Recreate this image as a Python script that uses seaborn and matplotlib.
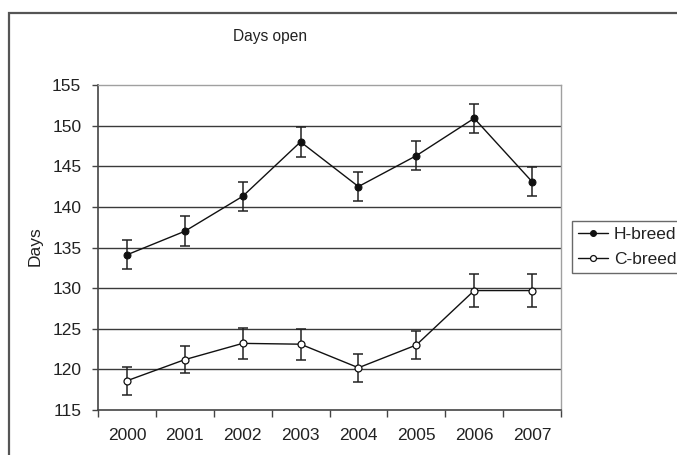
import matplotlib
matplotlib.use("Agg")
import matplotlib.pyplot as plt
from matplotlib.patches import Rectangle
import numpy as np
import pandas as pd
import seaborn as sns

# Days open by year, means with standard errors
years = ["2000", "2001", "2002", "2003", "2004", "2005", "2006", "2007"]
h_mean = [134.1, 137.0, 141.3, 148.0, 142.5, 146.3, 150.9, 143.1]
h_se = [1.8, 1.85, 1.8, 1.8, 1.75, 1.75, 1.8, 1.8]
c_mean = [118.6, 121.2, 123.2, 123.1, 120.2, 123.0, 129.7, 129.7]
c_se = [1.7, 1.7, 1.9, 1.9, 1.75, 1.75, 2.0, 2.0]
y_ticks = [115, 120, 125, 130, 135, 140, 145, 150, 155]

sns.set_theme(style="white")
plt.rcParams["font.family"] = ["Liberation Sans", "DejaVu Sans"]

W, H = 677, 455
fig = plt.figure(figsize=(W / 100, H / 100), dpi=100)
ax = fig.add_axes([98 / W, 1 - 410 / H, (561 - 98) / W, (410 - 85) / H])

pos = np.arange(len(years))
df = pd.DataFrame({
    "pos": np.concatenate([pos, pos]),
    "days": h_mean + c_mean,
    "breed": ["H-breed"] * len(years) + ["C-breed"] * len(years),
})

# horizontal gridlines
for v in y_ticks[1:-1]:
    ax.axhline(v, color="#3a3a3a", lw=1.0, zorder=0)

# error bars
ax.errorbar(pos, h_mean, yerr=h_se, fmt="none", ecolor="#222222",
            elinewidth=1.1, capsize=3.6, capthick=1.1, zorder=2)
ax.errorbar(pos, c_mean, yerr=c_se, fmt="none", ecolor="#222222",
            elinewidth=1.1, capsize=3.6, capthick=1.1, zorder=2)

sns.lineplot(data=df[df.breed == "H-breed"], x="pos", y="days", ax=ax,
             color="#111111", lw=1.0, marker="o", markersize=5,
             markerfacecolor="#111111", markeredgecolor="#111111",
             label="H-breed", zorder=3)
sns.lineplot(data=df[df.breed == "C-breed"], x="pos", y="days", ax=ax,
             color="#111111", lw=1.0, marker="o", markersize=5,
             markerfacecolor="white", markeredgecolor="#111111",
             markeredgewidth=0.9, label="C-breed", zorder=3)

ax.set_xlim(-0.5, len(years) - 0.5)
ax.set_ylim(115, 155)
ax.set_yticks(y_ticks)
ax.set_yticklabels([str(v) for v in y_ticks])
ax.set_xticks(pos)
ax.set_xticklabels(years)
ax.set_xticks(np.arange(-0.5, len(years)), minor=True)
ax.tick_params(axis="x", which="major", length=0, pad=13, labelsize=12.5,
               colors="#222222")
ax.tick_params(axis="x", which="minor", length=5, width=1.0, color="#444444",
               direction="out", bottom=True)
ax.tick_params(axis="y", which="major", length=4, width=1.0, color="#444444",
               direction="out", left=True, pad=8, labelsize=12.5,
               labelcolor="#222222")
ax.set_xlabel("")
ax.set_ylabel("")

for side in ["left", "bottom"]:
    ax.spines[side].set_color("#444444")
    ax.spines[side].set_linewidth(1.2)
for side in ["top", "right"]:
    ax.spines[side].set_color("#a0a0a0")
    ax.spines[side].set_linewidth(1.0)
    ax.spines[side].set_visible(True)

fig.text(270 / W, 1 - 37 / H, "Days open", ha="center", va="center",
         fontsize=11.2, color="#222222")
fig.text(35 / W, 1 - 246 / H, "Days", ha="center", va="center",
         rotation=90, fontsize=12.5, color="#222222")

# legend box runs past the right edge of the figure
leg = ax.legend(loc="upper left",
                bbox_to_anchor=(572 / W, 1 - 275 / H, 135 / W, 54 / H),
                bbox_transform=fig.transFigure, mode="expand",
                fontsize=12.5, frameon=True,
                fancybox=False, handlelength=1.75, handletextpad=0.3,
                borderpad=0.35, labelspacing=0.55, borderaxespad=0,
                markerscale=0.85)
leg.get_frame().set_edgecolor("#444444")
leg.get_frame().set_linewidth(1.0)
for t in leg.get_texts():
    t.set_color("#222222")

# outer chart frame
fig.patches.append(Rectangle((9 / W, -0.5), 2, 1 - 13 / H + 0.5,
                             transform=fig.transFigure, fill=False,
                             edgecolor="#555555", lw=1.6))

fig.savefig("out.png", dpi=100)
